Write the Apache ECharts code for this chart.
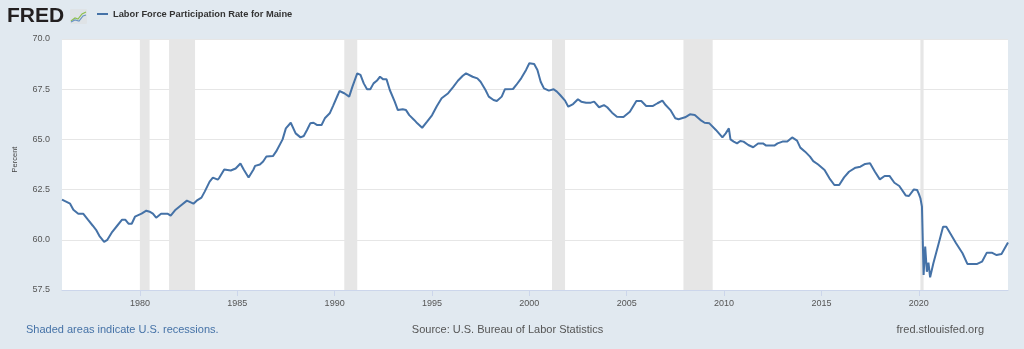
<!DOCTYPE html>
<html><head><meta charset="utf-8">
<script src="https://cdn.jsdelivr.net/npm/echarts@6/dist/echarts.min.js"></script>
<style>html,body{margin:0;padding:0;background:#e1e9f0}#c{width:1024px;height:349px}</style>
</head><body><div id="c"></div>
<script>
const dates = [
'1976-01','1976-06','1976-08','1976-11','1977-02','1977-05','1977-08','1977-10','1977-12','1978-03','1978-05','1978-08','1978-11',
'1979-02','1979-04','1979-06','1979-08','1979-10','1980-02','1980-05','1980-07','1980-09','1980-11','1981-02','1981-06','1981-08','1981-11',
'1982-02','1982-06','1982-10','1982-12','1983-03','1983-05','1983-08','1983-10','1984-01','1984-02','1984-05','1984-09','1984-12',
'1985-03','1985-05','1985-08','1985-11','1985-12','1986-03','1986-05','1986-07','1986-11','1987-01','1987-05','1987-07','1987-10','1987-11',
'1988-01','1988-04','1988-06','1988-08','1988-10','1988-12','1989-02','1989-05','1989-07','1989-10','1989-12',
'1990-03','1990-04','1990-07','1990-10','1990-12','1991-03','1991-05','1991-07','1991-09','1991-11',
'1992-01','1992-03','1992-05','1992-07','1992-09','1992-11','1993-02','1993-04','1993-07','1993-09','1993-11',
'1994-02','1994-04','1994-07','1994-10','1995-01','1995-04','1995-07','1995-11','1996-02','1996-05','1996-08','1996-10',
'1997-02','1997-05','1997-07','1997-10','1997-12','1998-03','1998-05','1998-08','1998-10','1999-03','1999-05','1999-08','1999-11',
'2000-01','2000-04','2000-06','2000-08','2000-10','2001-01','2001-04','2001-06','2001-08','2001-11',
'2002-01','2002-04','2002-07','2002-09','2002-12','2003-03','2003-05','2003-08','2003-11','2004-01','2004-04','2004-07','2004-11',
'2005-03','2005-07','2005-10','2006-01','2006-05','2006-08','2006-11','2007-01','2007-04','2007-07','2007-09',
'2008-01','2008-04','2008-07','2008-11','2009-01','2009-04','2009-08','2009-12','2010-02','2010-04','2010-05','2010-07','2010-09','2010-11',
'2011-01','2011-04','2011-07','2011-10','2012-01','2012-03','2012-08','2012-10','2013-01','2013-04','2013-07','2013-10','2013-12',
'2014-03','2014-06','2014-08','2014-11','2015-03','2015-06','2015-09','2015-12','2016-03','2016-06','2016-10',
'2017-01','2017-04','2017-07','2017-10','2018-01','2018-04','2018-07','2018-10','2019-01','2019-05','2019-07','2019-10','2019-12',
'2020-01','2020-02','2020-03','2020-04','2020-05','2020-06','2020-07','2020-08','2020-10','2021-01','2021-04','2021-06','2021-09','2021-12',
'2022-04','2022-07','2023-01','2023-04','2023-07','2023-10','2024-01','2024-04','2024-08'
];
const values = [
62.0,61.8,61.5,61.3,61.3,61.0,60.7,60.5,60.2,59.9,60.0,60.4,60.7,
61.0,61.0,60.8,60.8,61.15,61.3,61.45,61.4,61.3,61.1,61.3,61.3,61.2,61.5,
61.7,61.95,61.8,61.95,62.1,62.4,62.9,63.1,63.0,63.1,63.5,63.45,63.55,
63.8,63.5,63.1,63.5,63.68,63.75,63.9,64.15,64.17,64.4,65.0,65.55,65.83,65.75,
65.3,65.1,65.17,65.47,65.8,65.83,65.72,65.72,66.05,66.3,66.66,
67.21,67.41,67.3,67.13,67.63,68.29,68.21,67.79,67.5,67.5,
67.79,67.92,68.12,67.99,67.99,67.46,66.88,66.46,66.5,66.46,66.21,
65.97,65.8,65.58,65.88,66.2,66.65,67.05,67.3,67.6,67.92,68.17,68.29,
68.12,68.04,67.87,67.46,67.13,66.96,66.91,67.13,67.5,67.51,67.71,68.04,68.46,
68.79,68.75,68.46,67.87,67.54,67.43,67.5,67.38,67.21,66.93,
66.63,66.76,67.0,66.88,66.83,66.83,66.88,66.6,66.71,66.6,66.33,66.13,66.12,
66.38,66.91,66.91,66.66,66.66,66.8,66.93,66.71,66.46,66.05,66.0,
66.1,66.25,66.22,65.93,65.83,65.8,65.47,65.1,65.3,65.55,65.0,64.89,64.8,64.92,
64.89,64.72,64.61,64.8,64.8,64.69,64.69,64.8,64.89,64.89,65.1,64.94,64.59,
64.39,64.14,63.92,63.75,63.48,63.06,62.73,62.73,63.11,63.39,63.59,
63.64,63.78,63.81,63.39,63.01,63.18,63.18,62.84,62.68,62.21,62.18,62.51,62.48,
62.3,62.07,61.65,58.25,59.66,58.41,58.86,58.13,58.83,59.74,60.65,60.65,60.24,59.83,
59.33,58.8,58.8,58.91,59.36,59.36,59.24,59.29,59.86
];
const recessionStarts = ['1980-01','1981-07','1990-07','2001-03','2007-12','2020-02'];
const recessionEnds   = ['1980-07','1982-11','1991-03','2001-11','2009-06','2020-04'];
const tickYears = [1980,1985,1990,1995,2000,2005,2010,2015,2020];
const yMin = 57.5, yMax = 70, yStep = 2.5;
const seriesName = 'Labor Force Participation Rate for Maine';

const toTime = s => new Date(+s.slice(0, 4), +s.slice(5, 7) - 1, 1).getTime();
const chart = echarts.init(document.getElementById('c'), null, {renderer:'canvas'});
const font = '"Liberation Sans", Arial, sans-serif';
const tickTimes = tickYears.map(y => new Date(y, 0, 1).getTime());
chart.setOption({
  animation: false,
  backgroundColor: '#e1e9f0',
  grid: {left: 62, right: 16, top: 39, bottom: 59, show: true, backgroundColor: '#ffffff', borderWidth: 0},
  legend: {
    left: 97, top: 9.5, padding: 0, icon: 'rect', itemWidth: 11, itemHeight: 2, itemGap: 4,
    data: [seriesName],
    textStyle: {fontFamily: font, fontWeight: 'bold', fontSize: 9.3, color: '#333'}
  },
  xAxis: {
    type: 'value',
    min: toTime(dates[0]),
    max: toTime(dates[dates.length - 1]),
    axisLine: {show: true, onZero: false, lineStyle: {color: '#ccd6eb', width: 1}},
    axisTick: {show: true, length: 6, lineStyle: {color: '#ccd6eb'}, customValues: tickTimes},
    axisLabel: {customValues: tickTimes, margin: 9, fontFamily: font, fontSize: 9, color: '#555',
      formatter: v => String(new Date(v).getFullYear())},
    splitLine: {show: false}
  },
  yAxis: {
    type: 'value', min: yMin, max: yMax, interval: yStep,
    axisLine: {show: false}, axisTick: {show: false},
    axisLabel: {margin: 12, fontFamily: font, fontSize: 9, color: '#555', formatter: v => v.toFixed(1)},
    splitLine: {lineStyle: {color: '#e6e6e6', width: 1}}
  },
  series: [{
    name: seriesName,
    type: 'line',
    data: dates.map((d, i) => [toTime(d), values[i]]),
    showSymbol: false,
    symbol: 'none',
    lineStyle: {color: '#4572a7', width: 2},
    itemStyle: {color: '#4572a7'},
    emphasis: {disabled: true},
    markArea: {
      silent: true,
      itemStyle: {color: '#e6e6e6'},
      data: recessionStarts.map((s, i) => [{xAxis: toTime(s)}, {xAxis: toTime(recessionEnds[i])}])
    }
  }],
  graphic: [
    {type: 'text', left: 7, top: 6, style: {text: 'FRED', font: 'bold 21px ' + font, fill: '#231f20'}},
    {type: 'rect', shape: {x: 70, y: 9, width: 17, height: 15, r: 1}, style: {fill: '#dfe3e6'}},
    {type: 'polyline', shape: {points: [[71,21],[75,18],[78,19],[82,14],[86,12]]}, style: {stroke: '#8dbf4f', lineWidth: 1.2, fill: null}},
    {type: 'polyline', shape: {points: [[71,22],[75,20],[79,21],[83,16],[86,15]]}, style: {stroke: '#6a94c4', lineWidth: 1.2, fill: null}},
    {type: 'text', x: 15, y: 159.5, rotation: Math.PI / 2,
      style: {text: 'Percent', font: '7.5px ' + font, fill: '#444', align: 'center', verticalAlign: 'middle'}},
    {type: 'text', x: 26, y: 330, style: {text: 'Shaded areas indicate U.S. recessions.', font: '11px ' + font, fill: '#4572a7', verticalAlign: 'middle'}},
    {type: 'text', x: 507.5, y: 330, style: {text: 'Source: U.S. Bureau of Labor Statistics', font: '11px ' + font, fill: '#555', align: 'center', verticalAlign: 'middle'}},
    {type: 'text', x: 984, y: 330, style: {text: 'fred.stlouisfed.org', font: '11px ' + font, fill: '#555', align: 'right', verticalAlign: 'middle'}}
  ]
});
</script>
</body></html>
